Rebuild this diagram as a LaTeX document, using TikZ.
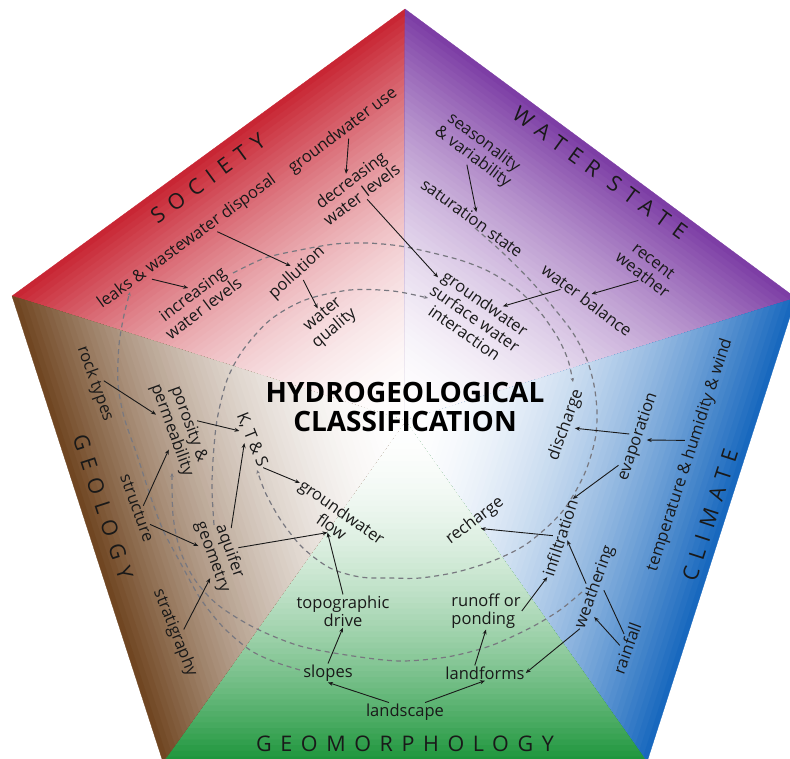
\documentclass[tikz,border=0pt]{standalone}
\usepackage{fontspec}
\setmainfont{Open Sans}
\newfontfamily\titlefont[LetterSpace=40]{Open Sans}
\usetikzlibrary{calc,arrows.meta}
\definecolor{csoc}{RGB}{200,38,52}
\definecolor{cwat}{RGB}{125,62,165}
\definecolor{ccli}{RGB}{24,104,190}
\definecolor{cgeo}{RGB}{30,150,60}
\definecolor{cgeol}{RGB}{112,70,34}
\definecolor{txt}{RGB}{25,25,25}
\definecolor{dgray}{RGB}{120,120,128}
\tikzset{
 lab/.style={font=\fontsize{16.5}{18}\selectfont, text=txt, align=center, inner sep=1pt},
 ttl/.style={font=\titlefont\fontsize{21.5}{24}\selectfont, text=txt, inner sep=1pt},
 arr/.style={draw=txt, line width=0.9pt, -{Stealth[length=5pt,width=4pt]}},
 plain/.style={draw=txt, line width=0.9pt},
 dsh/.style={draw=dgray, line width=1.2pt, dash pattern=on 5pt off 4pt, -{Stealth[length=4pt,width=3.5pt]}}
}
\begin{document}
\begin{tikzpicture}[x=1pt,y=-1pt]
\useasboundingbox (0,0) rectangle (790,758);
\clip (0,0) rectangle (790,758);
% pentagon geometry
\coordinate (O) at (405,421);
\coordinate (T) at (405,9);
\coordinate (L) at (12,296);
\coordinate (R) at (796,298);
\coordinate (BL) at (163,762);
\coordinate (BR) at (647,762);
% sector shadings
\foreach \A/\B/\col in {L/T/csoc, T/R/cwat, R/BR/ccli, BR/BL/cgeo, BL/L/cgeol}{
  \foreach \k in {60,...,1}{
    \pgfmathsetmacro\t{\k/60}
    \pgfmathsetmacro\p{100*(\k/60)^1.85}
    \fill[\col!\p!white, draw=\col!\p!white, line width=0.3pt, line join=round] (O) -- ($(O)!\t!(\A)$) -- ($(O)!\t!(\B)$) -- cycle;
  }
}
% dashed cycles
\draw[dsh] plot[smooth] coordinates {(233,273) (265,258) (300,250) (335,244) (367,243) (400,246) (433,253) (463,261) (490,272) (518,290) (540,312) (558,338) (568,360) (573,382)};
\draw[dsh] plot[smooth] coordinates {(475,228) (503,253) (530,280) (553,307) (573,333) (587,360) (594,385) (597,412) (595,440) (584,475) (562,512) (528,543) (495,560) (457,572) (420,578) (390,578) (360,577) (330,568) (303,548) (282,522) (266,494) (257,470)};
\draw[dsh] plot[smooth] coordinates {(214,525) (212,490) (213,460) (217,420) (227,380) (243,350) (270,320) (305,300) (350,290) (393,291) (428,298)};
\draw[dsh] plot[smooth] coordinates {(582,592) (560,610) (530,628) (490,646) (447,657) (400,661) (353,656) (300,646) (255,628) (218,605) (195,580) (180,550) (173,515) (172,473)};
\draw[dsh] plot[smooth] coordinates {(300,670) (275,662) (250,650) (223,627) (200,598) (180,562) (163,530) (150,495) (137,455) (124,417) (118,383) (119,345) (124,315) (130,292)};
% centre
\node[font=\bfseries\fontsize{28}{29.5}\selectfont, align=center, text=black, inner sep=1pt] (hc) at (405,407) {HYDROGEOLOGICAL\\CLASSIFICATION};
% titles
\node[ttl, rotate=36] (soc) at (208,178) {SOCIETY};
\node[ttl, rotate=-36] (ws) at (600,173) {WATER STATE};
\node[ttl, rotate=72] (cli) at (710,515) {CLIMATE};
\node[ttl] (geo) at (405,744) {GEOMORPHOLOGY};
\node[ttl, rotate=-72] (geol) at (103,507) {GEOLOGY};
% society
\node[lab, rotate=36] (leaks) at (187,242) {leaks \& wastewater disposal};
\node[lab, rotate=37] (gwuse) at (343,131) {groundwater use};
\node[lab, rotate=37] (decr) at (356,187) {decreasing\\water levels};
\node[lab, rotate=37] (incr) at (198,301) {increasing\\water levels};
\node[lab, rotate=42] (poll) at (297,273) {pollution};
\node[lab, rotate=40] (wq) at (329,322) {water\\quality};
% water state
\node[lab, rotate=-37] (seas) at (478,150) {seasonality\\\& variability};
\node[lab, rotate=-36] (sat) at (472,218) {saturation state};
\node[lab, rotate=-38] (recent) at (648,268) {recent\\weather};
\node[lab, rotate=-37] (wb) at (587,300) {water balance};
\node[lab, rotate=-35] (gwsw) at (475,318) {groundwater\\surface water\\interaction};
% climate
\node[lab, rotate=72] (temp) at (690,455) {temperature \& humidity \& wind};
\node[lab, rotate=71] (evap) at (638,437) {evaporation};
\node[lab, rotate=70] (disch) at (566,425) {discharge};
\node[lab, rotate=72] (infil) at (560,538) {infiltration};
\node[lab, rotate=70] (weath) at (595,587) {weathering};
\node[lab, rotate=70] (rain) at (627,648) {rainfall};
\node[lab, rotate=37] (rech) at (475,521) {recharge};
% geomorphology
\node[lab] (land) at (405,712) {landscape};
\node[lab] (slopes) at (328,673) {slopes};
\node[lab] (lforms) at (485,673) {landforms};
\node[lab] (topo) at (343,611) {topographic\\drive};
\node[lab, align=left] (runoff) at (486,611) {runoff or\\ponding};
\node[lab, rotate=-35] (gwflow) at (337,519) {groundwater\\flow};
% geology
\node[lab, rotate=-70] (rock) at (95,384) {rock types};
\node[lab, rotate=-70] (poro) at (180,427) {porosity \&\\permeability};
\node[lab, rotate=-68] (kts) at (252,440) {K, T \& S};
\node[lab, rotate=-70] (struct) at (137,508) {structure};
\node[lab, rotate=-70] (aq) at (221,554) {aquifer\\geometry};
\node[lab, rotate=-68] (strat) at (175,633) {stratigraphy};
% society arrows
\draw[arr] ($(leaks.south west)!.27!(leaks.south east)$) -- (incr.north);
\draw[arr] ($(leaks.south west)!.64!(leaks.south east)$) -- (poll.north);
\draw[arr] (gwuse.south) -- (decr.north);
\draw[arr] (decr) -- (gwsw);
\draw[arr] (poll.south) -- (wq.north);
% water state arrows
\draw[arr] (seas.south) -- (sat.north);
\draw[arr] (recent.south) -- (wb.north);
\draw[arr] ($(wb.south west)!.25!(wb.south east)$) -- ($(gwsw.north west)!.65!(gwsw.north east)$);
% climate arrows
\draw[arr] ($(temp.north west)!.55!(temp.north east)$) -- (evap.south);
\draw[arr] (evap.north) -- (disch.south);
\draw[arr] ($(evap.north west)!.15!(evap.north east)$) -- (infil.east);
\draw[arr] (infil.north) -- (rech.south);
\draw[arr] (weath.north) -- (infil.south);
\draw[arr] (rain.north) -- ($(weath.south west)!.18!(weath.south east)$);
\draw[plain] (weath.south) -- ($(rain.north west)!.72!(rain.north east)$);
\draw[arr] (weath.west) -- (lforms.east);
\draw[arr] (runoff.east) -- (infil.west);
% geomorphology arrows
\draw[arr] ($(land.north west)!.6!(land.north)$) -- (slopes.south);
\draw[arr] ($(land.north)!.5!(land.north east)$) -- (lforms.south);
\draw[arr] (slopes.north) -- (topo.south);
\draw[arr] ($(lforms.north west)!.75!(lforms.north)$) -- (runoff.south);
\draw[arr] (topo.north) -- (gwflow.south);
% geology arrows
\draw[arr] (kts.east) -- ($(gwflow.west)!.5!(gwflow.north west)$);
\draw[arr] (aq.north) -- (gwflow.south);
\draw[arr] ($(aq.north)!.55!(aq.north west)$) -- (kts.south);
\draw[arr] (poro.north) -- ($(kts.south west)!.28!(kts.south east)$);
\draw[arr] (rock.north) -- ($(poro.south)!.4!(poro.south west)$);
\draw[arr] (struct.north) -- ($(poro.south)!.35!(poro.south east)$);
\draw[arr] ($(struct.north)!.55!(struct.north east)$) -- ($(aq.south)!.4!(aq.south west)$);
\draw[arr] (strat.north) -- ($(aq.south)!.5!(aq.south east)$);
\end{tikzpicture}
\end{document}
